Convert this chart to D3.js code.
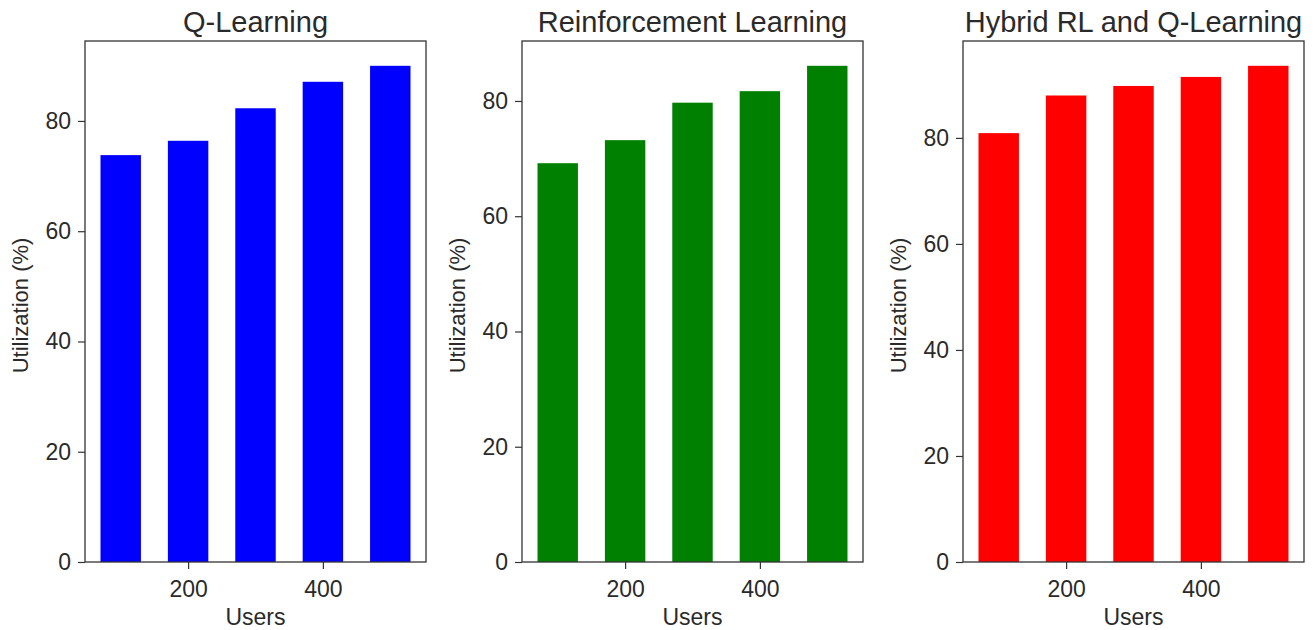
<!DOCTYPE html>
<html>
<head>
<meta charset="utf-8">
<script src="https://cdn.jsdelivr.net/npm/d3@7"></script>
<style>
  html, body { margin: 0; padding: 0; background: #fff; }
  svg { display: block; font-family: "Liberation Sans", Arial, sans-serif; }
</style>
</head>
<body>
<svg id="chart" width="1315" height="630"></svg>
<script>
const users = [100, 200, 300, 400, 500];
const qLearning = [73.8, 76.4, 82.3, 87.1, 90.0];
const reinforcement = [69.2, 73.2, 79.7, 81.7, 86.1];
const hybrid = [80.9, 88.0, 89.8, 91.5, 93.6];
const titles = ["Q-Learning", "Reinforcement Learning", "Hybrid RL and Q-Learning"];
const colors = ["#0000ff", "#008000", "#ff0000"];
const xTicks = [200, 400];
const yTicks = [0, 20, 40, 60, 80];
const xLabel = "Users";
const yLabel = "Utilization (%)";

const seriesList = [qLearning, reinforcement, hybrid];
const panels = [
  { left: 85, right: 426 },
  { left: 522, right: 863 },
  { left: 963, right: 1304 }
];
const plotTop = 41, plotBottom = 562;
const barWidth = 60;
const textColor = "#2a2a2a";

const svg = d3.select("#chart");

seriesList.forEach((vals, i) => {
  const p = panels[i];
  const xmin = d3.min(users) - barWidth / 2, xmax = d3.max(users) + barWidth / 2;
  const pad = (xmax - xmin) * 0.05;
  const x = d3.scaleLinear().domain([xmin - pad, xmax + pad]).range([p.left, p.right]);
  const y = d3.scaleLinear().domain([0, d3.max(vals) * 1.05]).range([plotBottom, plotTop]);

  const g = svg.append("g");

  g.selectAll("rect.bar").data(users).enter().append("rect")
    .attr("class", "bar")
    .attr("x", d => x(d - barWidth / 2))
    .attr("width", d => x(d + barWidth / 2) - x(d - barWidth / 2))
    .attr("y", (d, j) => y(vals[j]))
    .attr("height", (d, j) => y(0) - y(vals[j]))
    .attr("fill", colors[i]);

  g.append("rect")
    .attr("x", p.left).attr("y", plotTop)
    .attr("width", p.right - p.left).attr("height", plotBottom - plotTop)
    .attr("fill", "none").attr("stroke", "#333").attr("stroke-width", 1.3);

  const xAxis = g.append("g").attr("transform", `translate(0,${plotBottom})`)
    .call(d3.axisBottom(x).tickValues(xTicks).tickSize(7).tickPadding(12).tickFormat(d3.format("d")));
  const yAxis = g.append("g").attr("transform", `translate(${p.left},0)`)
    .call(d3.axisLeft(y).tickValues(yTicks).tickSize(7).tickPadding(7).tickFormat(d3.format("d")));
  [xAxis, yAxis].forEach(a => {
    a.select(".domain").remove();
    a.selectAll(".tick line").attr("stroke", "#333").attr("stroke-width", 1.2);
    a.selectAll(".tick text").attr("fill", textColor).style("font-size", "23px");
  });

  g.append("text")
    .attr("x", (p.left + p.right) / 2).attr("y", 32)
    .attr("text-anchor", "middle").attr("fill", textColor)
    .style("font-size", "29px").text(titles[i]);

  g.append("text")
    .attr("x", (p.left + p.right) / 2).attr("y", 625)
    .attr("text-anchor", "middle").attr("fill", textColor)
    .style("font-size", "23px").text(xLabel);

  g.append("text")
    .attr("transform", `translate(${p.left - 57},${(plotTop + plotBottom) / 2 + 4}) rotate(-90)`)
    .attr("text-anchor", "middle").attr("fill", textColor)
    .style("font-size", "22px").text(yLabel);
});
</script>
</body>
</html>
